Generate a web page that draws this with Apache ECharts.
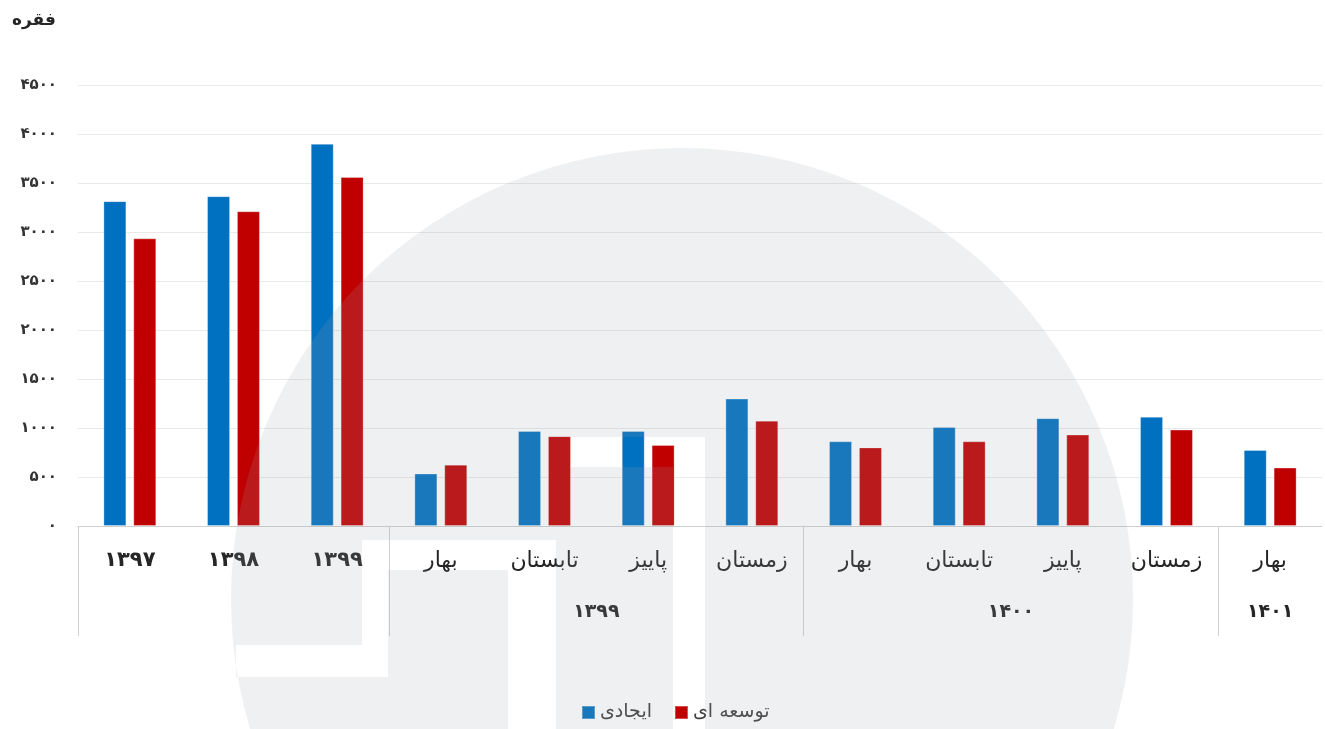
<!DOCTYPE html>
<html lang="fa">
<head>
<meta charset="utf-8">
<title>ایجادی و توسعه ای</title>
<script src="https://cdn.jsdelivr.net/npm/echarts@6/dist/echarts.min.js"></script>
<style>
  html, body { margin: 0; padding: 0; background: #ffffff; }
  #chart { width: 1325px; height: 729px; }
</style>
</head>
<body>
<div id="chart"></div>
<script>
// Periods on the category axis (years, then seasons)
const categories = ['۱۳۹۷', '۱۳۹۸', '۱۳۹۹', 'بهار', 'تابستان', 'پاییز', 'زمستان', 'بهار', 'تابستان', 'پاییز', 'زمستان', 'بهار'];
const yearCategories = ['۱۳۹۷', '۱۳۹۸', '۱۳۹۹'];

// Season groups below the season labels
const groupNames = ['۱۳۹۹', '۱۴۰۰', '۱۴۰۱'];
const groupCenters = [5, 9, 11.5];
const groupSeparators = [0, 3, 7, 11];

// Series values (فقره)
const seriesNames = ['ایجادی', 'توسعه ای'];
const ijadi = [3315, 3365, 3900, 535, 970, 970, 1300, 865, 1010, 1100, 1115, 775];
const tosee = [2935, 3212, 3562, 626, 917, 826, 1075, 802, 864, 933, 984, 596];

// Value axis ticks
const yTicks = [0, 500, 1000, 1500, 2000, 2500, 3000, 3500, 4000, 4500];

const faDigits = ['۰', '۱', '۲', '۳', '۴', '۵', '۶', '۷', '۸', '۹'];
function toFa(n) {
  return String(n).replace(/[0-9]/g, d => faDigits[+d]);
}

// Faint circular emblem laid over the plot, with cut-out gutters
const EmblemShape = echarts.graphic.extendShape({
  shape: { cx: 0, cy: 0, r: 0, holes: [] },
  buildPath(ctx, s) {
    ctx.moveTo(s.cx + s.r, s.cy);
    ctx.arc(s.cx, s.cy, s.r, 0, Math.PI * 2, false);
    ctx.closePath();
    s.holes.forEach(h => {
      const [x, y, w, hh] = h;
      ctx.moveTo(x, y);
      ctx.lineTo(x, y + hh);
      ctx.lineTo(x + w, y + hh);
      ctx.lineTo(x + w, y);
      ctx.closePath();
    });
  }
});
echarts.graphic.registerShape('emblem', EmblemShape);

const chart = echarts.init(document.getElementById('chart'), null, { renderer: 'canvas' });

const FONT = 'DejaVu Sans';

chart.setOption({
  animation: false,
  backgroundColor: '#ffffff',
  textStyle: { fontFamily: FONT },
  title: {
    text: 'فقره',
    left: 7,
    top: 7,
    textStyle: { fontFamily: FONT, fontSize: 17, fontWeight: 'bold', color: '#262626' }
  },
  legend: {
    data: seriesNames,
    left: 576,
    top: 698,
    icon: 'rect',
    itemWidth: 13,
    itemHeight: 13,
    itemGap: 22,
    textStyle: { fontFamily: FONT, fontSize: 19, color: '#404040' }
  },
  grid: { left: 78, right: 3, top: 85, bottom: 203 },
  xAxis: [
    {
      type: 'category',
      data: categories,
      axisLine: { show: true, lineStyle: { color: '#d0d0d0', width: 1 } },
      axisTick: { show: false },
      axisLabel: {
        margin: 24,
        interval: 0,
        formatter: (v, i) => (i < yearCategories.length ? '{y|' + v + '}' : '{s|' + v + '}'),
        rich: {
          y: { fontFamily: FONT, fontSize: 21, fontWeight: 'bold', color: '#262626' },
          s: { fontFamily: FONT, fontSize: 22, color: '#262626' }
        }
      }
    },
    {
      type: 'value',
      min: 0,
      max: 12,
      position: 'bottom',
      axisLine: { show: false },
      splitLine: { show: false },
      axisTick: {
        show: true,
        customValues: groupSeparators,
        length: 110,
        lineStyle: { color: '#d0d0d0', width: 1 }
      },
      axisLabel: {
        customValues: groupCenters,
        margin: 77,
        formatter: v => groupNames[groupCenters.indexOf(v)] || '',
        fontFamily: FONT,
        fontSize: 19,
        fontWeight: 'bold',
        color: '#262626'
      }
    }
  ],
  yAxis: {
    type: 'value',
    min: 0,
    max: 4500,
    interval: 500,
    axisLine: { show: false },
    axisTick: { show: false },
    axisLabel: {
      margin: 21,
      formatter: v => (yTicks.indexOf(v) >= 0 ? toFa(v) : ''),
      fontFamily: FONT,
      fontSize: 15,
      fontWeight: 'bold',
      color: '#333333'
    },
    splitLine: { lineStyle: { color: '#e9e9e9', width: 1 } }
  },
  series: [
    {
      name: seriesNames[0],
      type: 'bar',
      data: ijadi,
      barWidth: 23,
      barGap: '30%',
      itemStyle: { color: '#0070C0', borderColor: 'rgba(255,255,255,0.3)', borderWidth: 1 }
    },
    {
      name: seriesNames[1],
      type: 'bar',
      data: tosee,
      barWidth: 23,
      barGap: '30%',
      itemStyle: { color: '#C00000', borderColor: 'rgba(255,255,255,0.3)', borderWidth: 1 }
    }
  ],
  graphic: [
    {
      type: 'emblem',
      silent: true,
      z: 100,
      shape: {
        cx: 682,
        cy: 599,
        r: 451,
        holes: [
          [236, 645, 126, 32],
          [362, 540, 26, 137],
          [388, 540, 120, 30],
          [508, 540, 48, 189],
          [570, 437, 103, 30],
          [673, 437, 32, 292]
        ]
      },
      style: { fill: 'rgba(158,164,170,0.16)' }
    }
  ]
});
</script>
</body>
</html>
